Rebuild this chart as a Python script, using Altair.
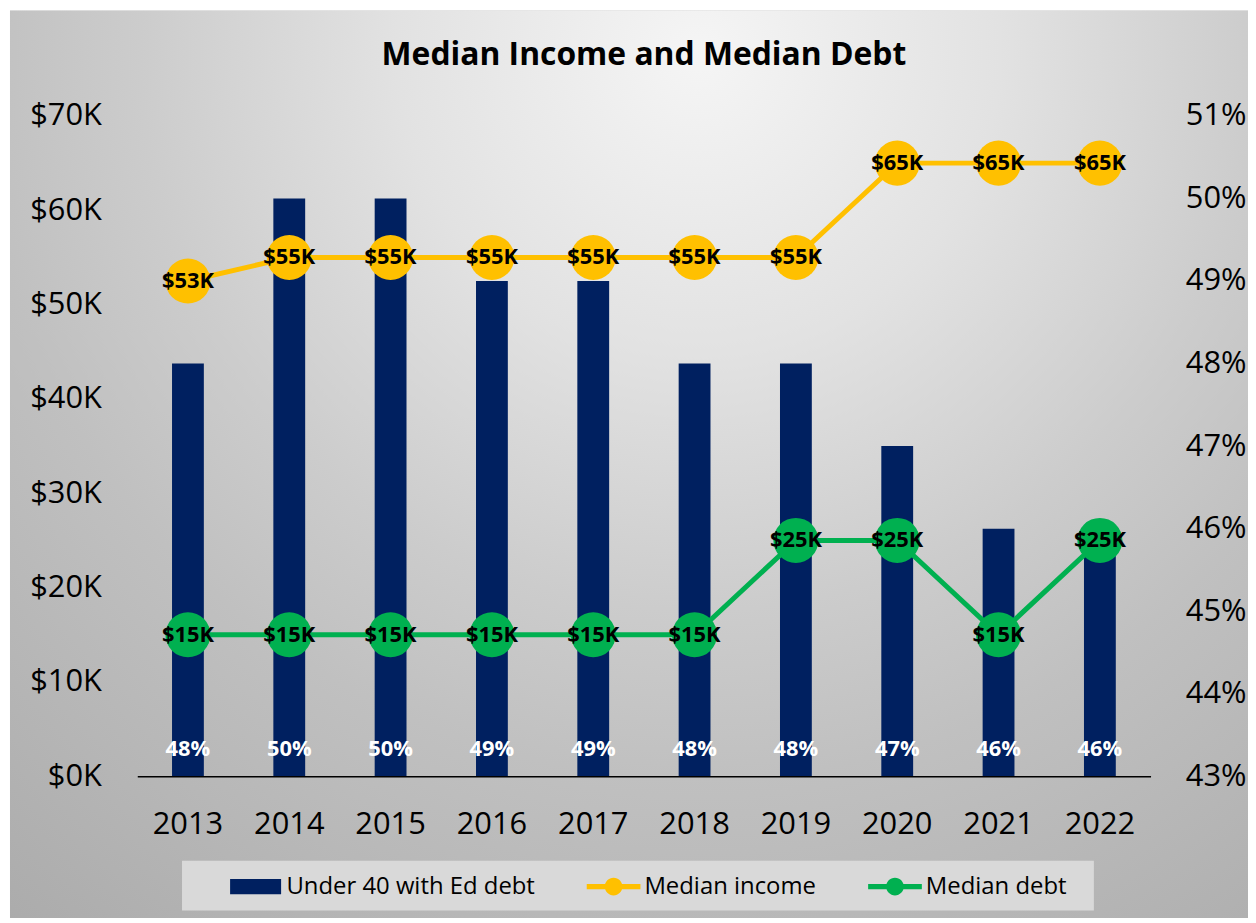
import altair as alt
import pandas as pd

# ---- data ----
years = ["2013", "2014", "2015", "2016", "2017", "2018", "2019", "2020", "2021", "2022"]
pct_under40_with_debt = [48, 50, 50, 49, 49, 48, 48, 47, 46, 46]   # right axis, %
median_income_k = [52.5, 55, 55, 55, 55, 55, 55, 65, 65, 65]        # left axis, $K
median_debt_k = [15, 15, 15, 15, 15, 15, 25, 25, 15, 25]            # left axis, $K

series_names = ["Under 40 with Ed debt", "Median income", "Median debt"]
series_colors = ["#002060", "#FFC000", "#00B050"]

left_ticks = [0, 10, 20, 30, 40, 50, 60, 70]
right_ticks = [43, 44, 45, 46, 47, 48, 49, 50, 51]

FONT = "Open Sans"

df = pd.DataFrame({
    "year": years,
    "pct": pct_under40_with_debt,
    "income": median_income_k,
    "debt": median_debt_k,
})

W, H = 1019, 664

RECT_PATH = "M-0.95,-0.28H0.95V0.28H-0.95Z"
LINE_PATH = "M-1,-0.1H1V0.1H-1Z M0.33,0A0.33,0.33 0 1 1 -0.33,0A0.33,0.33 0 1 1 0.33,0Z"

color_enc = alt.Color(
    "series:N",
    scale=alt.Scale(domain=series_names, range=series_colors),
    legend=alt.Legend(
        title=None,
        orient="none",
        legendX=92,
        legendY=748,
        direction="horizontal",
        columns=3,
        padding=0,
        columnPadding=52,
        labelFont=FONT,
        labelFontSize=24,
        labelColor="black",
        labelOffset=4,
        labelLimit=400,
        symbolSize=2916,
        symbolType={"expr": "datum.value === 'Under 40 with Ed debt' ? '" + RECT_PATH + "' : '" + LINE_PATH + "'"},
        symbolFillColor={"expr": "scale('color', datum.value)"},
        symbolStrokeColor="transparent",
        symbolStrokeWidth=0,
        symbolOpacity=1,
        zindex=2,
    ),
)

x_enc = alt.X(
    "year:O",
    title=None,
    scale=alt.Scale(paddingInner=0, paddingOuter=0),
    axis=alt.Axis(
        labelAngle=0,
        labelFont=FONT,
        labelFontSize=31,
        labelColor="black",
        labelPadding=34,
        domainColor="black",
        domainWidth=1.5,
        ticks=False,
        tickSize=0,
        grid=False,
        zindex=1,
    ),
)

base = alt.Chart(df)

# ---- bars on right axis ----
bars = base.transform_calculate(series="'Under 40 with Ed debt'").mark_bar(size=32).encode(
    x=x_enc,
    y=alt.Y(
        "pct:Q",
        title=None,
        scale=alt.Scale(domain=[43, 51], zero=False, nice=False),
        axis=alt.Axis(
            orient="right",
            values=right_ticks,
            labelExpr="datum.value + '%'",
            labelFont=FONT,
            labelFontSize=31,
            labelColor="black",
            labelPadding=35,
            domain=False,
            ticks=False,
            tickSize=0,
            grid=False,
            zindex=1,
        ),
    ),
    y2=alt.datum(43),
    color=color_enc,
)

bar_text = base.transform_calculate(lbl="datum.pct + '%'").mark_text(
    font=FONT, fontSize=22, fontWeight="bold", color="white", baseline="middle", dy=-27
).encode(
    x=alt.X("year:O"),
    y=alt.YDatum(43, title=None),
    text="lbl:N",
)

right_layer = alt.layer(bars, bar_text)

# ---- lines on left axis ----
lines_base = base.transform_fold(["income", "debt"], as_=["key", "value"]).transform_calculate(
    series="datum.key === 'income' ? 'Median income' : 'Median debt'",
    lbl="'$' + format(datum.value, '.0f') + 'K'",
)

y_left = alt.Y(
    "value:Q",
    title=None,
    scale=alt.Scale(domain=[0, 70], nice=False),
    axis=alt.Axis(
        orient="left",
        values=left_ticks,
        labelExpr="'$' + datum.value + 'K'",
        labelFont=FONT,
        labelFontSize=31,
        labelColor="black",
        labelPadding=36,
        domain=False,
        ticks=False,
        tickSize=0,
        grid=False,
        zindex=1,
    ),
)

lines = lines_base.mark_line(strokeWidth=5).encode(x=alt.X("year:O"), y=y_left, color=color_enc)
points = lines_base.mark_circle(size=2050, opacity=1).encode(x=alt.X("year:O"), y=y_left, color=color_enc)
point_text = lines_base.mark_text(
    font=FONT, fontSize=22, fontWeight="bold", color="black", baseline="middle"
).encode(x=alt.X("year:O"), y=y_left, text="lbl:N")

left_layer = alt.layer(lines, points, point_text)

# ---- decorative background & legend panel ----
bg_gradient = {
    "gradient": "radial",
    "x1": 0.555, "y1": 0.167, "r1": 0,
    "x2": 0.555, "y2": 0.167, "r2": 0.9,
    "stops": [
        {"offset": 0, "color": "#f5f5f5"},
        {"offset": 0.27, "color": "#e2e2e2"},
        {"offset": 0.5, "color": "#cccccc"},
        {"offset": 0.65, "color": "#c0c0c0"},
        {"offset": 1, "color": "#ababab"},
    ],
}
one = pd.DataFrame({"k": [0]})
bg = alt.Chart(one).mark_rect(fill=bg_gradient, strokeWidth=0).encode(
    x=alt.value(-128), x2=alt.value(1120), y=alt.value(-106), y2=alt.value(809)
)
legend_box = alt.Chart(one).mark_rect(fill="#d9d9d9", strokeWidth=0).encode(
    x=alt.value(45), x2=alt.value(962), y=alt.value(749), y2=alt.value(799)
)

chart = alt.layer(bg, legend_box, right_layer, left_layer).resolve_scale(
    y="independent"
).properties(
    width=W,
    height=H,
    autosize=alt.AutoSizeParams(type="none"),
    padding={"left": 130, "top": 106, "right": 98, "bottom": 140},
    background="white",
    title=alt.TitleParams(
        "Median Income and Median Debt",
        font=FONT,
        fontSize=32,
        fontWeight="bold",
        color="black",
        anchor="middle",
        offset=-62,
        zindex=2,
    ),
).configure_view(stroke="transparent")

chart.save("out.html", embed_options={"renderer": "svg", "actions": False})
